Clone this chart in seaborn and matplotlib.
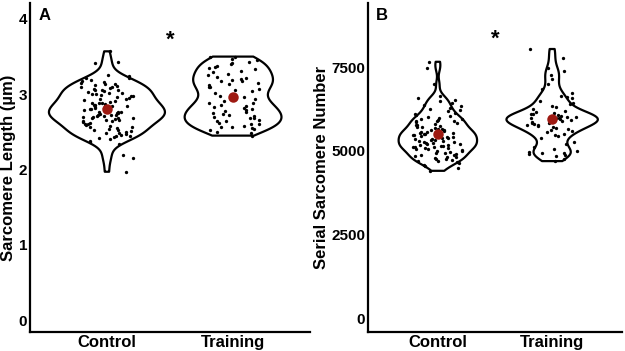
import numpy as np
import pandas as pd
import matplotlib
matplotlib.use("Agg")
import matplotlib.pyplot as plt
import seaborn as sns

# groups on the x axis
groups = ["Control", "Training"]

# sarcomere length (um), panel A
length_control = [
    3.57, 3.43, 3.41,
    3.26, 3.24, 3.22, 3.21, 3.19, 3.18, 3.16, 3.15,
    3.14, 3.13, 3.12, 3.11, 3.10, 3.09, 3.08, 3.07, 3.06, 3.05, 3.05, 3.04,
    3.03, 3.02, 3.01, 3.00, 3.00, 2.99,
    2.98, 2.97, 2.96, 2.95, 2.94, 2.93, 2.92, 2.91, 2.90, 2.89, 2.89, 2.88,
    2.87, 2.86, 2.86, 2.85, 2.84, 2.84, 2.83, 2.82, 2.82, 2.81,
    2.80, 2.79, 2.79, 2.78, 2.77, 2.77, 2.76, 2.75, 2.75, 2.74, 2.73, 2.73,
    2.72, 2.71, 2.71, 2.70, 2.70, 2.69, 2.68, 2.68, 2.67, 2.66, 2.66, 2.65, 2.64,
    2.63, 2.62, 2.61, 2.60, 2.59, 2.58, 2.57, 2.56, 2.55, 2.54, 2.53, 2.52, 2.51, 2.50,
    2.49, 2.48, 2.47, 2.46, 2.45, 2.44, 2.43, 2.42, 2.40, 2.38, 2.36, 2.34,
    2.19, 2.15, 1.97,
]
length_training = [
    3.50, 3.49, 3.47, 3.45, 3.43, 3.41, 3.40,
    3.38, 3.36, 3.35, 3.33, 3.31, 3.29, 3.27, 3.25, 3.23, 3.22,
    3.20, 3.19, 3.18, 3.17, 3.15, 3.14, 3.12, 3.10, 3.09, 3.07, 3.05, 3.04,
    3.01, 2.98, 2.96, 2.93, 2.91,
    2.89, 2.88, 2.86, 2.85, 2.83, 2.82, 2.80, 2.79, 2.78,
    2.76, 2.75, 2.74, 2.72, 2.71, 2.70, 2.69, 2.68, 2.66, 2.65, 2.64, 2.62, 2.61, 2.60,
    2.58, 2.57, 2.56, 2.55, 2.54, 2.52, 2.50, 2.48, 2.45,
]

# serial sarcomere number, panel B
number_control = [
    7658, 7460, 6982,
    6640, 6580, 6520, 6480, 6430, 6380, 6330, 6290,
    6250, 6210, 6180, 6140, 6100, 6070, 6040, 6010, 5980, 5960, 5940, 5920, 5900, 5890, 5880,
    5850, 5830, 5800, 5780, 5760, 5740, 5720, 5700, 5680, 5660, 5640, 5620, 5610, 5590,
    5570, 5560, 5540, 5530, 5510, 5500, 5490, 5480,
    5460, 5450, 5430, 5420, 5400, 5390, 5370, 5360, 5340, 5330, 5310, 5300, 5280, 5270,
    5250, 5240, 5220, 5210, 5200, 5180, 5170, 5150, 5140, 5120, 5110, 5100, 5090, 5080,
    5060, 5040, 5020, 5000, 4980, 4960, 4940, 4920, 4900, 4880, 4860, 4840, 4820, 4800,
    4780, 4760, 4740, 4720, 4700, 4690,
    4660, 4620, 4580, 4540, 4480, 4400,
]
number_training = [
    8040, 7765, 7470, 7370, 7250,
    7150, 7000, 6850, 6720,
    6650, 6600, 6580, 6500, 6440, 6390, 6350, 6300,
    6240, 6200, 6160, 6130, 6110, 6090, 6070, 6050, 6030, 6010, 6000, 5990, 5980,
    5970, 5960, 5950, 5940, 5930, 5920, 5900, 5880, 5860, 5840, 5820, 5800, 5780,
    5760, 5730, 5700, 5680, 5650, 5620, 5590, 5550, 5510, 5470, 5430, 5380,
    5250, 5190, 5120, 5060, 5000, 4960,
    4940, 4920, 4900, 4880, 4850, 4760, 4690,
]

panel_labels = ["A", "B"]
y_labels = ["Sarcomere Length (\u00b5m)", "Serial Sarcomere Number"]


def long_form(control, training):
    return pd.DataFrame({
        "group": [groups[0]] * len(control) + [groups[1]] * len(training),
        "value": list(control) + list(training),
    })


df_a = long_form(length_control, length_training)
df_b = long_form(number_control, number_training)

sns.set_theme(style="white")
plt.rcParams["font.family"] = ["Liberation Sans", "DejaVu Sans"]
plt.rcParams["font.weight"] = "bold"
plt.rcParams["text.color"] = "black"
plt.rcParams["axes.labelcolor"] = "black"
plt.rcParams["xtick.color"] = "black"
plt.rcParams["ytick.color"] = "black"

np.random.seed(3)

fig = plt.figure(figsize=(6.25, 3.51), dpi=100)
ax_a = fig.add_axes([0.048, 0.054, 0.448, 0.937])
ax_b = fig.add_axes([0.589, 0.054, 0.406, 0.937])

settings = [
    (ax_a, df_a, (-0.16, 4.21), [0, 1, 2, 3, 4], 3.72, 0.92, 0.8),
    (ax_b, df_b, (-418, 9410), [0, 2500, 5000, 7500], 8330, 0.8, 0.6),
]

for i, (ax, df, ylim, yticks, star_y, vwidth, bw) in enumerate(settings):
    sns.violinplot(data=df, x="group", y="value", ax=ax, fill=False, inner=None,
                   cut=0, color="black", linewidth=1.6, width=vwidth,
                   density_norm="area", bw_adjust=bw)
    sns.stripplot(data=df, x="group", y="value", ax=ax, color="black",
                  jitter=0.22, size=2.4, linewidth=0, zorder=3)
    sns.pointplot(data=df, x="group", y="value", ax=ax, estimator="mean",
                  errorbar=None, color="#9e1a12", linestyle="none",
                  markers="o", markersize=5.5, zorder=4)

    ax.set_xlim(-0.61, 1.61)
    ax.set_ylim(*ylim)
    ax.set_yticks(yticks)
    ax.set_yticklabels([str(t) for t in yticks])
    ax.set_xlabel("")
    ax.set_ylabel(y_labels[i], fontsize=12, fontweight="bold", labelpad=2)
    ax.tick_params(axis="x", length=0, pad=2, labelsize=12)
    ax.tick_params(axis="y", length=0, pad=2, labelsize=11)
    for lab in ax.get_xticklabels() + ax.get_yticklabels():
        lab.set_fontweight("bold")
    for side in ["top", "right"]:
        ax.spines[side].set_visible(False)
    for side in ["left", "bottom"]:
        ax.spines[side].set_color("black")
        ax.spines[side].set_linewidth(1.6)
    ax.grid(False)

    ax.text(0.03, 0.985, panel_labels[i], transform=ax.transAxes,
            fontsize=12, fontweight="bold", va="top", ha="left")
    ax.text(0.5, star_y, "*", fontsize=16, fontweight="bold",
            ha="center", va="center")

fig.savefig("out.png", dpi=100, facecolor="white")
